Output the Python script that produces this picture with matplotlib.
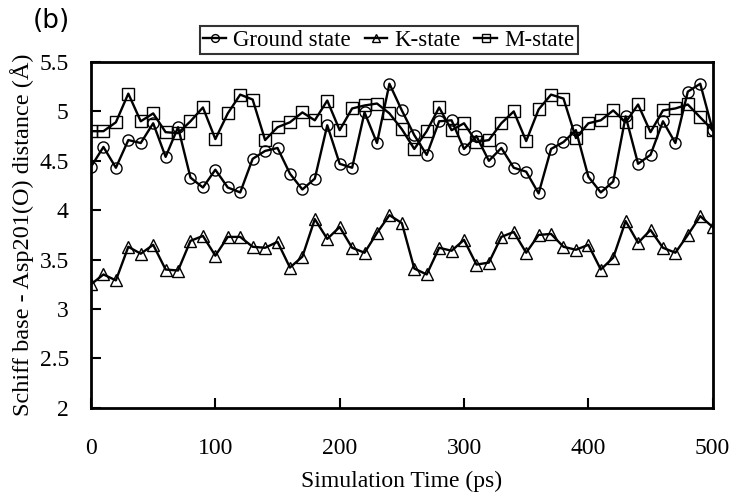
import matplotlib
matplotlib.use("Agg")
import matplotlib.pyplot as plt
import numpy as np

plt.rcParams['font.family'] = ['Liberation Serif', 'DejaVu Serif']

time_ps = np.arange(0, 501, 10)

ground = [4.44, 4.64, 4.43, 4.71, 4.68, 4.88, 4.54, 4.84, 4.33, 4.23,
          4.41, 4.23, 4.18, 4.52, 4.60, 4.63, 4.37, 4.21, 4.32, 4.86,
          4.47, 4.43, 4.99, 4.68, 5.28, 5.01, 4.76, 4.56, 4.90, 4.91,
          4.62, 4.75, 4.50, 4.63, 4.43, 4.39, 4.17, 4.62, 4.69, 4.81,
          4.34, 4.18, 4.29, 4.95, 4.47, 4.56, 4.90, 4.68, 5.20, 5.28,
          4.81]

k_state = [3.25, 3.35, 3.29, 3.63, 3.56, 3.65, 3.40, 3.39, 3.69, 3.74,
           3.54, 3.73, 3.73, 3.63, 3.62, 3.68, 3.42, 3.53, 3.91, 3.71,
           3.83, 3.62, 3.57, 3.77, 3.95, 3.87, 3.41, 3.35, 3.62, 3.59,
           3.70, 3.45, 3.47, 3.73, 3.78, 3.57, 3.75, 3.76, 3.63, 3.60,
           3.65, 3.40, 3.52, 3.89, 3.67, 3.80, 3.62, 3.57, 3.75, 3.94,
           3.83]

m_state = [4.80, 4.80, 4.89, 5.18, 4.90, 4.98, 4.79, 4.78, 4.90, 5.04,
           4.72, 4.98, 5.17, 5.12, 4.71, 4.84, 4.89, 4.99, 4.91, 5.11,
           4.81, 5.03, 5.06, 5.08, 4.98, 4.82, 4.62, 4.80, 5.04, 4.81,
           4.88, 4.69, 4.71, 4.88, 5.00, 4.70, 5.02, 5.17, 5.13, 4.73,
           4.88, 4.91, 5.01, 4.89, 5.07, 4.79, 5.01, 5.03, 5.07, 4.94,
           4.81]

fig = plt.figure(figsize=(7.37, 4.98), dpi=100)
ax = fig.add_axes([0.1235, 0.181, 0.8435, 0.6945])

style = dict(color='black', lw=1.7, markerfacecolor='none',
             markeredgecolor='black', markeredgewidth=1.0)
ax.plot(time_ps, ground, marker='o', ms=8, label='Ground state', **style)
ax.plot(time_ps, k_state, marker='^', ms=8, label='K-state', **style)
ax.plot(time_ps, m_state, marker='s', ms=8, label='M-state', **style)

ax.set_xlim(0, 500)
ax.set_ylim(2, 5.5)
ax.set_xticks([0, 100, 200, 300, 400, 500])
ax.set_yticks([2, 2.5, 3, 3.5, 4, 4.5, 5, 5.5])
ax.set_yticklabels(['2', '2.5', '3', '3.5', '4', '4.5', '5', '5.5'])
ax.tick_params(direction='in', length=7, width=1.5, labelsize=17,
               top=False, right=False)
ax.tick_params(axis='x', pad=22)
ax.tick_params(axis='y', pad=16)
for sp in ax.spines.values():
    sp.set_linewidth(2)

ax.set_xlabel('Simulation Time (ps)', fontsize=17, labelpad=8)
ax.set_ylabel('Schiff base - Asp201(O) distance (Å)', fontsize=17.5)
ax.yaxis.set_label_coords(-0.092, 0.5)

leg = ax.legend(loc='lower center', bbox_to_anchor=(0.479, 1.022), ncol=3,
                fontsize=16.5, frameon=True, fancybox=False, handlelength=1.0,
                handletextpad=0.3, columnspacing=0.6, borderpad=0.15,
                borderaxespad=0.0, markerscale=0.7)
leg.get_frame().set_edgecolor('black')
leg.get_frame().set_linewidth(1.5)

fig.text(0.045, 1 - 8 / 498, '(b)', fontsize=19, family='DejaVu Sans', va='top')

fig.savefig('out.png', dpi=100)
